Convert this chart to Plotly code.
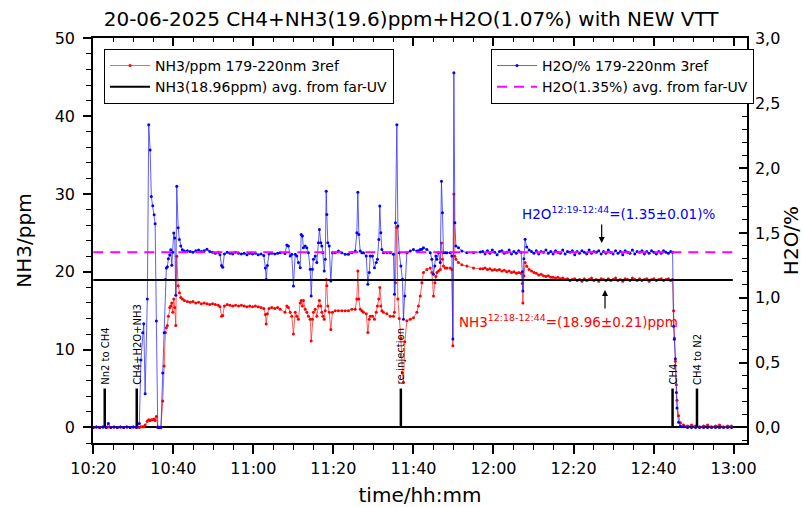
import pandas as pd
import plotly.graph_objects as go

# ---------------- data (time in minutes after 10:20) ----------------
time_min = [
    0.0, 0.8, 1.6, 2.4, 3.2, 3.75, 4.4, 5.2, 6.0, 6.8, 7.6, 8.4, 9.2, 10.0, 10.8,
    11.5, 11.9, 12.35, 12.6, 12.95, 13.5, 13.85, 14.2, 14.5, 14.85, 15.2, 15.45, 15.75,
    16.1, 16.5, 16.9, 17.35, 17.7, 18.0, 18.25, 18.5, 18.75, 19.1, 19.35, 19.6, 19.85,
    20.1, 20.35, 20.6, 20.85, 21.2, 21.5, 21.85, 22.25, 22.75,
    23.5, 24.2, 24.9, 25.6, 26.3, 27.0, 27.7, 28.4, 29.1, 29.8, 30.5, 31.25, 31.65,
    32.05, 32.35, 32.75, 33.45, 34.15, 34.85, 35.55, 36.3, 37.0, 37.7, 38.4, 39.1,
    39.8, 40.5, 41.2, 41.9, 42.6, 43.0, 43.2, 43.5, 43.9, 44.6, 45.35, 46.05,
    46.7, 47.9, 48.35, 48.75, 49.2, 49.6, 50.0, 50.45, 50.85, 51.25, 51.7, 51.95,
    52.25, 52.5, 52.95, 53.35, 53.75, 54.2, 54.45, 54.75, 55.0, 55.45, 55.85, 56.25,
    56.5, 56.85, 57.1, 57.35, 57.7, 57.95, 58.2, 58.35, 58.6, 58.95, 59.35, 59.75,
    60.45, 61.25, 62.1, 62.95, 63.75, 64.6, 65.45, 65.85, 66.1, 66.35, 66.7, 67.1,
    67.5, 68.2, 68.6, 68.95, 69.2, 69.75, 70.25, 70.7, 71.0, 71.35, 71.6, 71.85,
    72.1, 72.5, 73.35, 74.2, 75.0, 75.25, 75.5, 75.85, 76.1, 76.45, 76.85, 77.25,
    77.5, 77.85, 78.35, 79.2, 80.0, 80.85, 81.25, 81.7, 82.1, 82.5, 83.35, 84.2,
    84.6, 85.0, 85.35, 85.6, 85.85, 86.25, 86.7, 87.0, 87.25, 87.5, 87.95, 88.35,
    89.2, 89.6, 89.85, 90.1, 90.35, 90.6, 91.25, 92.1, 93.35, 95.0, 96.7,
    97.3, 97.9, 98.5, 99.1, 99.7, 100.3, 100.9, 101.5, 102.1, 102.7, 103.3, 103.9,
    104.5, 105.1, 105.7, 106.3, 106.9, 107.2, 107.35, 107.6, 107.9, 108.3, 108.9,
    109.5, 110.1, 110.7, 111.3, 111.9, 112.5, 113.1, 113.7, 114.3, 114.9, 115.5,
    116.1, 116.7, 117.3, 117.9, 118.5, 119.1, 119.7, 120.3, 120.9, 121.5, 122.1,
    122.7, 123.3, 123.9, 124.5, 125.1, 125.7, 126.3, 126.9, 127.5, 128.1, 128.7,
    129.3, 129.9, 130.5, 131.1, 131.7, 132.3, 132.9, 133.5, 134.1, 134.7, 135.3,
    135.9, 136.5, 137.1, 137.7, 138.3, 138.9, 139.5, 140.1, 140.7, 141.3, 141.9,
    142.5, 143.1, 143.7, 144.3, 144.75,
    145.0, 145.2, 145.45, 145.7, 145.85, 146.25, 146.7, 147.5, 148.5, 149.5, 150.5,
    151.5, 152.5, 153.5, 154.5, 155.5, 156.5, 157.5, 158.5, 159.5,
]

nh3_ppm = [
    0.0, 0.05, 0.0, 0.05, 0.0, 0.05, 0.0, 0.05, 0.0, 0.05, 0.0, 0.05, 0.0, 0.05, 0.0,
    0.0, 0.1, 0.1, 0.1, 0.3, 0.8, 1.0, 0.9, 1.0, 1.0, 1.1, 0.9, 1.4,
    0.1, 0.0, 0.05, 3.4, 7.9, 12.2, 12.8, 13.1, 14.3, 15.4, 15.6, 16.0, 14.8,
    16.5, 15.4, 13.1, 22.0, 18.2, 17.3, 16.7, 16.5, 16.3,
    16.2, 16.1, 16.2, 16.0, 16.1, 15.9, 16.0, 15.9, 15.8, 15.9, 15.8, 15.7, 15.5,
    14.3, 14.4, 15.6, 15.8, 15.7, 15.6, 15.7, 15.6, 15.7, 15.6, 15.5, 15.6,
    15.5, 15.6, 15.5, 15.4, 15.3, 14.5, 13.3, 14.6, 15.3, 15.4, 15.3, 15.4,
    15.2, 14.8, 15.6, 15.4, 14.8, 14.3, 12.0, 14.8, 14.3, 13.9, 16.0, 16.3,
    15.6, 16.3, 15.2, 14.8, 14.3, 13.9, 11.1, 13.9, 14.8, 15.2, 14.3, 15.6,
    16.3, 15.6, 14.8, 14.3, 13.9, 15.0, 19.0, 18.2, 15.6, 14.8, 12.6, 14.8,
    15.0, 15.0, 15.0, 15.0, 15.0, 15.2, 15.2, 16.5, 20.1, 16.5, 15.2, 15.0,
    14.8, 14.6, 12.2, 13.9, 14.3, 14.3, 13.9, 14.8, 15.6, 16.5, 18.0, 15.6,
    15.0, 14.8, 14.6, 14.3, 14.3, 14.8, 18.6, 25.7, 16.5, 14.0, 11.5, 7.0,
    5.8, 11.0, 13.7, 13.9, 14.1, 14.8, 15.6, 16.9, 18.6, 19.9, 20.3, 20.5,
    19.9, 16.9, 18.6, 19.4, 19.9, 20.1, 20.3, 23.7, 21.6, 20.75, 20.5, 20.5,
    20.5, 20.3, 10.5, 30.0, 22.0, 21.6, 21.2, 20.9, 20.75, 20.5, 20.4,
    20.4, 20.5, 20.3, 20.4, 20.2, 20.3, 20.2, 20.3, 20.1, 20.2, 20.0, 20.1,
    19.9, 20.0, 19.8, 19.9, 19.8, 18.5, 16.0, 19.5, 21.2, 20.7, 20.3,
    20.1, 19.9, 19.8, 19.6, 19.7, 19.5, 19.4, 19.5, 19.3, 19.3, 19.2,
    19.3, 19.1, 19.2, 19.0, 19.1, 18.9, 19.0, 19.1, 18.9, 19.0, 18.8,
    19.1, 18.9, 19.0, 19.2, 18.9, 19.0, 18.8, 19.1, 19.0, 18.9, 19.1,
    18.9, 19.0, 19.2, 18.9, 19.0, 18.8, 19.1, 19.0, 18.9, 19.2, 19.0,
    18.9, 19.1, 18.9, 19.0, 19.1, 18.8, 19.0, 19.1, 18.9, 19.0, 19.1,
    18.9, 19.0, 19.1, 18.9, 19.0,
    15.0, 11.5, 8.5, 5.5, 3.5, 1.5, 0.6, 0.3, 0.2, 0.3, 0.2,
    0.1, 0.2, 0.3, 0.1, 0.2, 0.3, 0.1, 0.2, 0.2,
]

h2o_pct = [
    0.0, 0.003, 0.0, 0.003, 0.0, 0.03, 0.0, 0.003, 0.0, 0.003, 0.0, 0.003, 0.0, 0.003, 0.0,
    0.03, 0.52, 0.73, 0.80, 0.26, 0.99, 2.335, 2.14, 1.78, 1.71, 1.64, 1.57, 0.82,
    0.0, 0.0, 0.0, 0.42, 0.73, 1.14, 1.23, 1.24, 1.30, 1.33, 1.37, 1.25, 1.35,
    1.50, 1.46, 1.02, 1.86, 1.54, 1.45, 1.40, 1.37, 1.36,
    1.362, 1.356, 1.350, 1.362, 1.368, 1.356, 1.362, 1.374, 1.356, 1.350, 1.344, 1.350, 1.332,
    1.248, 1.236, 1.338, 1.350, 1.344, 1.338, 1.350, 1.344, 1.338, 1.344, 1.332, 1.344,
    1.338, 1.344, 1.332, 1.338, 1.326, 1.230, 1.140, 1.248, 1.338, 1.344, 1.338, 1.344,
    1.348, 1.342, 1.406, 1.399, 1.322, 1.335, 1.091, 1.335, 1.322, 1.271, 1.232, 1.488,
    1.476, 1.386, 1.399, 1.386, 1.348, 1.219, 1.014, 1.219, 1.296, 1.322, 1.271, 1.425,
    1.527, 1.425, 1.399, 1.348, 1.207, 1.296, 1.822, 1.642, 1.425, 1.399, 1.129, 1.348,
    1.348, 1.360, 1.348, 1.335, 1.335, 1.348, 1.360, 1.501, 1.814, 1.488, 1.360, 1.348,
    1.348, 1.322, 1.104, 1.194, 1.322, 1.322, 1.232, 1.271, 1.296, 1.450, 1.707, 1.501,
    1.373, 1.348, 1.348, 1.348, 1.335, 1.027, 1.578, 2.335, 1.553, 1.348, 1.245, 1.142,
    0.835, 1.014, 1.348, 1.360, 1.373, 1.360, 1.362, 1.373, 1.374, 1.386, 1.373, 1.348,
    1.296, 1.181, 1.245, 1.322, 1.296, 1.348, 1.271, 1.899, 1.655, 1.348, 1.348, 1.348,
    1.348, 1.322, 0.681, 2.736, 1.578, 1.399, 1.386, 1.360, 1.348, 1.348, 1.352,
    1.356, 1.338, 1.362, 1.344, 1.368, 1.350, 1.332, 1.356, 1.362, 1.344, 1.350, 1.368,
    1.338, 1.356, 1.344, 1.362, 1.350, 1.200, 1.052, 1.300, 1.452, 1.392, 1.368,
    1.356, 1.344, 1.362, 1.338, 1.356, 1.350, 1.368, 1.344, 1.356, 1.338, 1.362,
    1.350, 1.344, 1.368, 1.338, 1.356, 1.350, 1.362, 1.332, 1.356, 1.344, 1.362,
    1.350, 1.338, 1.368, 1.344, 1.356, 1.350, 1.362, 1.338, 1.356, 1.344, 1.368,
    1.350, 1.338, 1.362, 1.344, 1.356, 1.332, 1.362, 1.350, 1.344, 1.368, 1.338,
    1.356, 1.350, 1.362, 1.338, 1.356, 1.344, 1.362, 1.350, 1.338, 1.356, 1.344,
    1.362, 1.350, 1.344, 1.356, 1.350,
    0.78, 0.68, 0.53, 0.27, 0.15, 0.04, 0.012, 0.006, 0.0, 0.0, 0.0,
    0.0, 0.0, 0.0, 0.0, 0.0, 0.0, 0.0, 0.0, 0.0,
]

nh3_avg_ppm = 18.96
h2o_avg_pct = 1.35
avg_span_min = [0.0, 159.8]

event_labels = ["Nn2 to CH4", "CH4+H2O+NH3", "re-injection", "CH4", "CH4 to N2"]
event_min = [2.85, 10.85, 76.85, 144.75, 150.85]
event_level_ppm = 5.0

# ---------------- helpers ----------------
base = pd.Timestamp("2025-06-20 10:20:00")
def to_time(mins):
    return base + pd.to_timedelta(pd.Series(mins, dtype=float), unit="min")

x_data = to_time(time_min)
x_avg = to_time(avg_span_min)
x_range = list(to_time([-0.08, 163.35]))

FONT = "DejaVu Sans, Liberation Sans, sans-serif"

ev_x, ev_y = [], []
for t in to_time(event_min):
    ev_x += [t, t, None]
    ev_y += [0, event_level_ppm, None]

fig = go.Figure()

fig.add_trace(go.Scatter(
    x=x_data, y=nh3_ppm, mode="lines+markers", name="NH3/ppm 179-220nm 3ref",
    line=dict(color="rgba(255,40,40,0.75)", width=1),
    marker=dict(color="#ff0000", size=3), legend="legend",
))
fig.add_trace(go.Scatter(
    x=x_avg, y=[nh3_avg_ppm, nh3_avg_ppm], mode="lines",
    name="NH3(18.96ppm) avg. from far-UV", xaxis="x2", yaxis="y",
    line=dict(color="black", width=2), legend="legend",
))
fig.add_trace(go.Scatter(
    x=ev_x, y=ev_y, mode="lines", showlegend=False,
    line=dict(color="black", width=2.5), hoverinfo="skip",
))
fig.add_trace(go.Scatter(
    x=x_data, y=h2o_pct, mode="lines+markers", name="H2O/% 179-220nm 3ref",
    yaxis="y2", line=dict(color="rgba(40,40,255,0.75)", width=1),
    marker=dict(color="#0000ff", size=3), legend="legend2",
))
fig.add_trace(go.Scatter(
    x=x_avg, y=[h2o_avg_pct, h2o_avg_pct], mode="lines",
    name="H2O(1.35%) avg. from far-UV", yaxis="y2",
    line=dict(color="#ff00ff", width=2, dash="10px,7px"), legend="legend2",
))

annotations = []
for lab, t in zip(event_labels, to_time(event_min)):
    annotations.append(dict(
        x=t, y=event_level_ppm, xref="x", yref="y", text=lab, showarrow=False,
        textangle=-90, yanchor="bottom", xanchor="center", yshift=2,
        font=dict(size=10, color="black", family=FONT),
    ))
annotations += [
    dict(x=0.8028, y=0.568, xref="paper", yref="paper", showarrow=False,
         xanchor="center", yanchor="middle",
         text="H2O<sup>12:19-12:44</sup>=(1.35±0.01)%",
         font=dict(size=13.5, color="#0000ff", family=FONT)),
    dict(x=0.7278, y=0.301, xref="paper", yref="paper", showarrow=False,
         xanchor="center", yanchor="middle",
         text="NH3<sup>12:18-12:44</sup>=(18.96±0.21)ppm",
         font=dict(size=13.5, color="#ff0000", family=FONT)),
    dict(x=0.7778, y=0.4938, xref="paper", yref="paper", text="", showarrow=True,
         ax=0, ay=-20, arrowhead=2, arrowsize=1, arrowwidth=1.2, arrowcolor="black"),
    dict(x=0.7829, y=0.3778, xref="paper", yref="paper", text="", showarrow=True,
         ax=0, ay=20, arrowhead=2, arrowsize=1, arrowwidth=1.2, arrowcolor="black"),
]

tick_font = dict(size=16, color="black", family=FONT)
title_font = dict(size=20, color="black", family=FONT)
DT20 = 20 * 60 * 1000
DT5 = 5 * 60 * 1000

fig.update_layout(
    width=803, height=507,
    margin=dict(l=93, r=56, t=38, b=64, autoexpand=False),
    paper_bgcolor="white", plot_bgcolor="white",
    font=dict(family=FONT, color="black"),
    separators=",.",
    title=dict(text="20-06-2025 CH4+NH3(19.6)ppm+H2O(1.07%) with NEW VTT",
               x=0.512, xanchor="center", y=0.962, yanchor="middle", yref="container",
               font=dict(size=20, color="black", family=FONT)),
    xaxis=dict(type="date", range=x_range, tick0=base, dtick=DT20, tickformat="%H:%M",
               ticks="outside", ticklen=9, tickwidth=1.5, tickcolor="black",
               showline=True, linecolor="black", linewidth=1.5, mirror=True,
               showgrid=False, zeroline=False, tickfont=tick_font,
               ticklabelstandoff=1, automargin=False,
               minor=dict(dtick=DT5, tick0=base, ticks="outside", ticklen=5,
                          tickwidth=1.2, tickcolor="black", showgrid=False),
               title=dict(text="time/hh:mm", font=title_font, standoff=14)),
    xaxis2=dict(type="date", overlaying="x", side="top", matches="x", range=x_range,
                tick0=base, dtick=DT20, ticks="inside", ticklen=8, tickwidth=1.5,
                tickcolor="black", showticklabels=False, showgrid=False,
                zeroline=False, showline=False, automargin=False,
                minor=dict(dtick=DT5, tick0=base, ticks="inside", ticklen=4,
                           tickwidth=1.2, tickcolor="black", showgrid=False)),
    yaxis=dict(range=[-2.0, 50.05], tick0=0, dtick=10, ticks="outside", ticklen=8,
               tickwidth=1.5, tickcolor="black", showline=True, linecolor="black",
               linewidth=1.5, mirror=True, showgrid=False,
               zeroline=True, zerolinecolor="black", zerolinewidth=2,
               tickfont=tick_font, ticklabelstandoff=5, automargin=False,
               minor=dict(dtick=2, tick0=0, ticks="outside", ticklen=5, tickwidth=1.2,
                          tickcolor="black", showgrid=False),
               title=dict(text="NH3/ppm", font=title_font, standoff=18)),
    yaxis2=dict(overlaying="y", side="right", range=[-0.12, 3.003], tick0=0, dtick=0.5,
                tickformat=".1f", ticks="inside", ticklen=8, tickwidth=1.5,
                tickcolor="black", showline=True, linecolor="black", linewidth=1.5,
                showgrid=False, zeroline=False, tickfont=tick_font, ticklabelstandoff=3,
                automargin=False,
                minor=dict(dtick=0.1, tick0=0, ticks="inside", ticklen=5, tickwidth=1.2,
                           tickcolor="black", showgrid=False),
                title=dict(text="H2O/%", font=title_font, standoff=4)),
    legend=dict(x=0.0168, y=0.973, xanchor="left", yanchor="top", bgcolor="white",
                bordercolor="black", borderwidth=1, font=dict(size=14, family=FONT),
                tracegroupgap=0, itemwidth=40),
    legend2=dict(x=0.6086, y=0.973, xanchor="left", yanchor="top", bgcolor="white",
                 bordercolor="black", borderwidth=1, font=dict(size=14, family=FONT),
                 tracegroupgap=0, itemwidth=40),
    annotations=annotations,
    showlegend=True,
)

fig.write_html("out.html")
